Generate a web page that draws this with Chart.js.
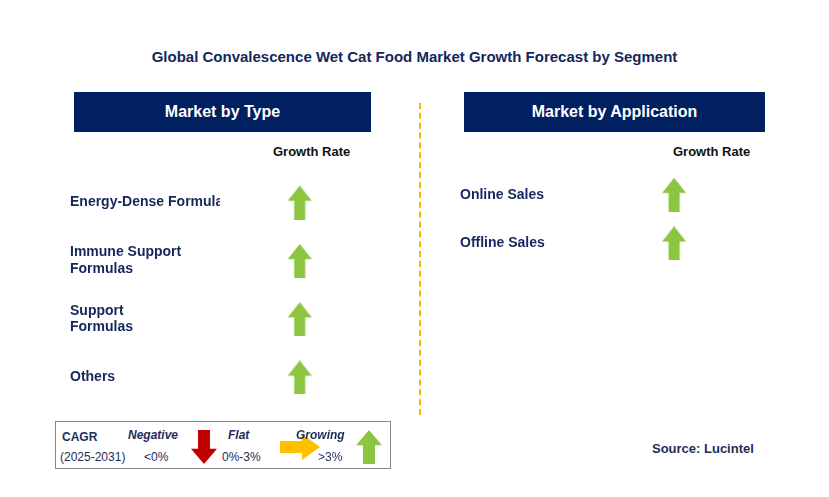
<!DOCTYPE html>
<html>
<head>
<meta charset="utf-8">
<script src="https://cdn.jsdelivr.net/npm/chart.js@4"></script>
<style>
  body { margin: 0; width: 829px; height: 497px; background: #fff; position: relative;
         font-family: Arial, 'Liberation Sans', sans-serif; overflow: hidden; }
  .abs { position: absolute; }
  .title { left: 0; width: 829px; top: 48px; text-align: center; font-weight: bold;
           font-size: 15px; color: #14275c; }
  .hdr { background: #002060; color: #fff; font-weight: bold; font-size: 16px;
         height: 40px; line-height: 40px; text-align: center; }
  .gr { font-weight: bold; font-size: 13px; color: #111; }
  .legend { left: 55px; top: 421px; width: 334px; height: 46px; border: 1px solid #888; }
  .lt { position: absolute; font-size: 12px; color: #1f2d5a; }
  .li { position: absolute; font-size: 12px; font-weight: bold; font-style: italic; color: #1f2d5a; }
</style>
</head>
<body>
<div class="abs title">Global Convalescence Wet Cat Food Market Growth Forecast by Segment</div>
<div class="abs hdr" style="left:74px;top:92px;width:297px">Market by Type</div>
<div class="abs hdr" style="left:464px;top:92px;width:301px">Market by Application</div>
<div class="abs gr" style="left:273px;top:144px">Growth Rate</div>
<div class="abs gr" style="left:673px;top:144px">Growth Rate</div>
<div class="abs" style="left:419px;top:103px;height:312px;border-left:2px dashed #f5b800"></div>

<div class="abs" style="left:70px;top:165px;width:300px;height:250px"><canvas id="typeChart"></canvas></div>
<div class="abs" style="left:460px;top:162px;width:300px;height:114px"><canvas id="appChart"></canvas></div>

<div class="abs legend">
  <div class="lt" style="left:6px;top:8px;font-weight:bold">CAGR</div>
  <div class="lt" style="left:4px;top:28px">(2025-2031)</div>
  <div class="li" style="left:72px;top:6px">Negative</div>
  <div class="lt" style="left:88px;top:28px">&lt;0%</div>
  <canvas id="lgNeg" width="26" height="34" style="position:absolute;left:135px;top:8px"></canvas>
  <div class="li" style="left:172px;top:6px">Flat</div>
  <div class="lt" style="left:166px;top:28px">0%-3%</div>
  <canvas id="lgFlat" width="40" height="26" style="position:absolute;left:224px;top:12px"></canvas>
  <div class="li" style="left:240px;top:6px">Growing</div>
  <div class="lt" style="left:262px;top:28px">&gt;3%</div>
  <canvas id="lgUp" width="26" height="34" style="position:absolute;left:300px;top:8px"></canvas>
</div>
<div class="abs" style="left:652px;top:441px;font-size:13px;font-weight:bold;color:#1f2d5a">Source: Lucintel</div>

<script>
// segments and growth direction (1 = growing, 0 = flat, -1 = negative)
const typeLabels = [['Energy-Dense Formulas'], ['Immune Support', 'Formulas'], ['Support', 'Formulas'], ['Others']];
const typeGrowth = [1, 1, 1, 1];
const appLabels = ['Online Sales', 'Offline Sales'];
const appGrowth = [1, 1];

function arrowCanvas(dir, w, h) {
    const c = document.createElement('canvas');
    c.width = w; c.height = h;
    const ctx = c.getContext('2d');
    ctx.save();
    if (dir === 0) {
        ctx.translate(w / 2, h / 2); ctx.rotate(Math.PI / 2); ctx.translate(-h / 2, -w / 2);
        [w, h] = [h, w];
    } else if (dir < 0) {
        ctx.translate(w, h); ctx.rotate(Math.PI);
    }
    const color = dir > 0 ? '#8cc540' : (dir < 0 ? '#c00000' : '#ffc000');
    ctx.fillStyle = color;
    ctx.beginPath();
    ctx.moveTo(w / 2, 0);
    ctx.lineTo(w, h * 0.45);
    ctx.lineTo(w * 0.73, h * 0.45);
    ctx.lineTo(w * 0.73, h);
    ctx.lineTo(w * 0.27, h);
    ctx.lineTo(w * 0.27, h * 0.45);
    ctx.lineTo(0, h * 0.45);
    ctx.closePath();
    ctx.fill();
    ctx.restore();
    return c;
}

function drawInto(id, dir) {
    const el = document.getElementById(id);
    el.getContext('2d').drawImage(arrowCanvas(dir, el.width, el.height), 0, 0);
}
drawInto('lgNeg', -1);
drawInto('lgFlat', 0);
drawInto('lgUp', 1);

function segmentChart(id, labels, growth, xPos) {
    return new Chart(document.getElementById(id), {
        type: 'scatter',
        data: {
            labels: labels,
            datasets: [{
                data: growth.map((g, i) => ({x: xPos, y: i})),
                pointStyle: growth.map(g => arrowCanvas(g, 24, 34)),
            }],
        },
        options: {
            responsive: true,
            maintainAspectRatio: false,
            animation: false,
            layout: {padding: 0},
            plugins: {legend: {display: false}, tooltip: {enabled: false}},
            scales: {
                x: {min: 0, max: 1, display: false},
                y: {
                    type: 'category',
                    offset: true,
                    reverse: false,
                    grid: {display: false},
                    border: {display: false},
                    ticks: {
                        crossAlign: 'far',
                        color: '#14275c',
                        font: {family: 'Arial, Liberation Sans', size: 14, weight: 'bold'},
                        padding: 0,
                        callback: function(v, i) { return labels[i]; },
                    },
                },
            },
        },
    });
}

segmentChart('typeChart', typeLabels, typeGrowth, 0.55);
segmentChart('appChart', appLabels, appGrowth, 0.6);
</script>
</body>
</html>
